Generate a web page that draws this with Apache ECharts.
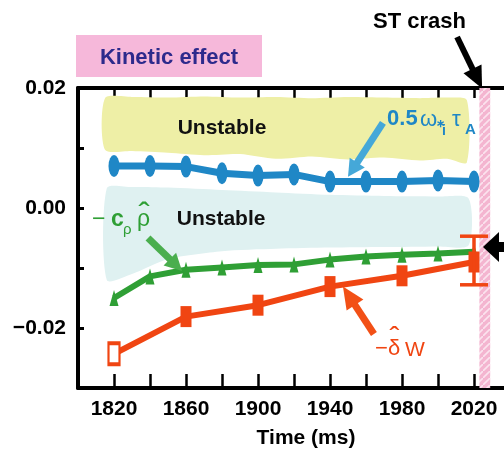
<!DOCTYPE html>
<html><head><meta charset="utf-8">
<script src="https://cdn.jsdelivr.net/npm/echarts@6/dist/echarts.min.js"></script>
<style>html,body{margin:0;padding:0;background:#fff}#c{width:504px;height:458px}</style>
</head><body><div id="c"></div>
<script>
// ---- data ----
const times = [1820,1840,1860,1880,1900,1920,1940,1960,1980,2000,2020];
const omegaStar = [0.0070,0.0070,0.0069,0.0058,0.0054,0.0056,0.0044,0.0044,0.0044,0.0046,0.0044];
const cRho = [-0.0150,-0.0114,-0.0103,-0.0099,-0.0095,-0.0094,-0.0086,-0.0081,-0.0078,-0.0076,-0.0073];
const dwTimes = [1820,1860,1900,1940,1980,2020];
const deltaW = [-0.0243,-0.0181,-0.0162,-0.0131,-0.0113,-0.0090];
const errTime = 2020, errLow = -0.0128, errHigh = -0.0047;
const xLabelTimes = [1820,1860,1900,1940,1980,2020];
const yLabelValues = [-0.02,0,0.02];
// shaded "Unstable" regions
const yellowX = [1815,1830,1850,1870,1890,1910,1930,1950,1970,1990,2005,2016];
const yellowTop = [0.0183,0.0185,0.0184,0.0186,0.0184,0.0185,0.0183,0.0185,0.0184,0.0183,0.0184,0.0180];
const yellowBot = [0.0097,0.0095,0.0092,0.0088,0.0090,0.0082,0.0086,0.0081,0.0084,0.0079,0.0082,0.0076];
const cyanX = [1816,1830,1850,1880,1910,1940,1970,2000,2017];
const cyanTop = [0.0033,0.0035,0.0034,0.0030,0.0026,0.0022,0.0020,0.0019,0.0016];
const cyanBot = [-0.0120,-0.0110,-0.0085,-0.0072,-0.0068,-0.0066,-0.0065,-0.0064,-0.0062];
const crashTimes = [2023,2029];

const FONT = '"Liberation Sans", Arial, sans-serif';
const BLUE = '#1f87c6', GREEN = '#2f9f35', RED = '#f04512';

function fmtY(v){ const r=Math.round(v*100)/100; return (r<0?'\u2212':'')+Math.abs(r).toFixed(2); }

const pat = document.createElement('canvas'); pat.width=7; pat.height=7;
(function(){const g=pat.getContext('2d'); g.fillStyle='#f4b5d0'; g.fillRect(0,0,7,7);
 g.strokeStyle='#fbe3ee'; g.lineWidth=1.6; g.beginPath(); g.moveTo(-1,8); g.lineTo(8,-1); g.stroke();})();

const chart = echarts.init(document.getElementById('c'));
const axisBase = {type:'value', splitLine:{show:false}, axisLine:{show:true,onZero:false,lineStyle:{color:'#000',width:4}}};
chart.setOption({
  animation:false,
  grid:{left:78, top:88, width:432, height:300, containLabel:false, outerBoundsMode:'none'},
  xAxis:[
    Object.assign({}, axisBase, {min:1800,max:2040,interval:20,position:'bottom',
      axisTick:{inside:true,length:14,lineStyle:{width:2.5,color:'#000'}},
      axisLabel:{margin:11,color:'#000',fontFamily:FONT,fontWeight:'bold',fontSize:21,
        formatter:v=>xLabelTimes.includes(v)?String(v):''},
      name:'Time (ms)', nameLocation:'middle', nameGap:40,
      nameTextStyle:{color:'#000',fontFamily:FONT,fontWeight:'bold',fontSize:21,padding:[0,0,0,24]}}),
    Object.assign({}, axisBase, {min:1800,max:2040,interval:20,position:'top',
      axisTick:{inside:true,length:10,lineStyle:{width:2.5,color:'#000'}},axisLabel:{show:false}})
  ],
  yAxis:[
    Object.assign({}, axisBase, {min:-0.03,max:0.02,interval:0.01,position:'left',
      axisTick:{inside:true,length:6,lineStyle:{width:3,color:'#000'}},
      axisLabel:{margin:12,color:'#000',fontFamily:FONT,fontWeight:'bold',fontSize:21,
        formatter:v=>yLabelValues.some(t=>Math.abs(t-v)<1e-9)?fmtY(v):''}}),
    Object.assign({}, axisBase, {min:-0.03,max:0.02,interval:0.01,position:'right',
      axisTick:{inside:true,length:6,lineStyle:{width:3,color:'#000'}},axisLabel:{show:false}})
  ],
  series:[
    {type:'custom', z:1, silent:true, data:[[0]], renderItem:(p,api)=>{
      const bands=[[yellowX,yellowTop,yellowBot,'#eeefa6'],[cyanX,cyanTop,cyanBot,'#dff1f1']];
      return {type:'group', children:bands.map(b=>{
        const pts=b[0].map((x,i)=>api.coord([x,b[1][i]]));
        for(let i=b[0].length-1;i>=0;i--) pts.push(api.coord([b[0][i],b[2][i]]));
        return {type:'polygon', shape:{points:pts, smooth:0.25}, style:{fill:b[3]}};
      })};
    }},
    {type:'custom', z:1, silent:true, data:[[crashTimes[0]]], renderItem:(p,api)=>{
      const a=api.coord([crashTimes[0],0.02]), b=api.coord([crashTimes[1],-0.03]);
      return {type:'rect', shape:{x:a[0],y:a[1],width:b[0]-a[0],height:b[1]-a[1]}, style:{fill:{image:pat,repeat:'repeat'}}};
    }},
    {name:'omega', type:'line', z:3, data:times.map((t,i)=>[t,omegaStar[i]]),
      lineStyle:{color:BLUE,width:7}, itemStyle:{color:BLUE}, symbol:'circle', symbolSize:[11,22], showSymbol:true},
    {name:'crho', type:'line', z:4, data:times.map((t,i)=>[t,cRho[i]]),
      lineStyle:{color:GREEN,width:6}, itemStyle:{color:GREEN}, symbol:'triangle', symbolSize:[9,16]},
    {name:'dw', type:'line', z:5, data:dwTimes.map((t,i)=>i===0?{value:[t,deltaW[i]],itemStyle:{color:'#fff',borderColor:RED,borderWidth:3}}:[t,deltaW[i]]),
      lineStyle:{color:RED,width:6}, itemStyle:{color:RED}, symbol:'rect', symbolSize:[11,21]},
    {type:'custom', z:6, silent:true, data:[[errTime,errLow,errHigh]], renderItem:(p,api)=>{
      const lo=api.coord([api.value(0),api.value(1)]), hi=api.coord([api.value(0),api.value(2)]);
      const w=14, st={stroke:RED,lineWidth:3.5};
      return {type:'group',children:[
        {type:'line',shape:{x1:lo[0],y1:lo[1],x2:hi[0],y2:hi[1]},style:st},
        {type:'line',shape:{x1:lo[0]-w,y1:lo[1],x2:lo[0]+w,y2:lo[1]},style:st},
        {type:'line',shape:{x1:hi[0]-w,y1:hi[1],x2:hi[0]+w,y2:hi[1]},style:st}]};
    }}
  ]
});

// ---- annotations ----
const P=(x,y)=>chart.convertToPixel({xAxisIndex:0,yAxisIndex:0},[x,y]);
function arrow(t,h,color,w,hl,hw){
  const dx=h[0]-t[0], dy=h[1]-t[1], L=Math.hypot(dx,dy), ux=dx/L, uy=dy/L;
  const bx=h[0]-ux*hl, by=h[1]-uy*hl, nx=-uy, ny=ux;
  return [{type:'line',z:20,shape:{x1:t[0],y1:t[1],x2:bx+ux*2,y2:by+uy*2},style:{stroke:color,lineWidth:w}},
    {type:'polygon',z:20,shape:{points:[[h[0],h[1]],[bx+nx*hw/2,by+ny*hw/2],[bx-nx*hw/2,by-ny*hw/2]]},style:{fill:color}}];
}
function txt(x,y,s,color,size,align,weight){
  return {type:'text',z:21,x:x,y:y,style:{text:s,fill:color,font:(weight||'bold')+' '+size+'px '+FONT,align:align||'left',verticalAlign:'middle'}};
}
const g=[];
// title box
g.push({type:'rect',z:20,shape:{x:76,y:35,width:186,height:42},style:{fill:'#f6b8da'}});
g.push(txt(169,58,'Kinetic effect','#2d2a8c',22,'center'));
g.push(txt(373,22,'ST crash','#000',22,'left'));
g.push(...arrow(P(2010.6,0.0285),P(2024.5,0.0199),'#000',6,22,20));
g.push(...arrow(P(2055,-0.0065),P(2025,-0.0065),'#000',10,16,30));
// Unstable labels
let u1=P(1880,0.0133), u2=P(1879.5,-0.0018);
g.push(txt(u1[0],u1[1],'Unstable','#111',21,'center'));
g.push(txt(u2[0],u2[1],'Unstable','#111',21,'center'));
// blue label
g.push(...arrow(P(1969.4,0.0142),P(1950,0.0052),'#45a8d8',7,17,18));
let b=P(1971.7,0.0148);
g.push(txt(b[0],b[1],'0.5',BLUE,22));
g.push(txt(b[0]+33,b[1]+1,'\u03c9',BLUE,22,'left','normal'));
g.push(txt(b[0]+49,b[1]+5,'\u2217',BLUE,11));
g.push(txt(b[0]+55,b[1]+12,'i',BLUE,14));
g.push(txt(b[0]+65,b[1]+1,'\u03c4',BLUE,22,'left','normal'));
g.push(txt(b[0]+78,b[1]+11,'A',BLUE,15));
// green label
g.push(...arrow(P(1838.9,-0.0050),P(1857.8,-0.0105),'#4aae4e',7,17,18));
let c=P(1807.8,-0.0020);
g.push(txt(c[0],c[1],'\u2212',GREEN,23,'left','normal'));
g.push(txt(c[0]+19,c[1],'c',GREEN,23));
g.push(txt(c[0]+31,c[1]+10,'\u03c1',GREEN,15,'left','normal'));
g.push(txt(c[0]+45,c[1],'\u03c1',GREEN,23,'left','normal'));
g.push(txt(c[0]+52,c[1]-3,'\u02c6',GREEN,34,'center','normal'));
// red label
g.push(...arrow(P(1964.4,-0.0210),P(1947.2,-0.0131),'#f25016',7,22,20));
let r=P(1965,-0.0235);
g.push(txt(r[0],r[1],'\u2212',RED,22,'left','normal'));
g.push(txt(r[0]+13,r[1],'\u03b4',RED,22,'left','normal'));
g.push(txt(r[0]+19.5,r[1]-10,'\u02c6',RED,30,'center','normal'));
g.push(txt(r[0]+30,r[1]+1,'W',RED,21,'left','normal'));
chart.setOption({graphic:g});
</script></body></html>
